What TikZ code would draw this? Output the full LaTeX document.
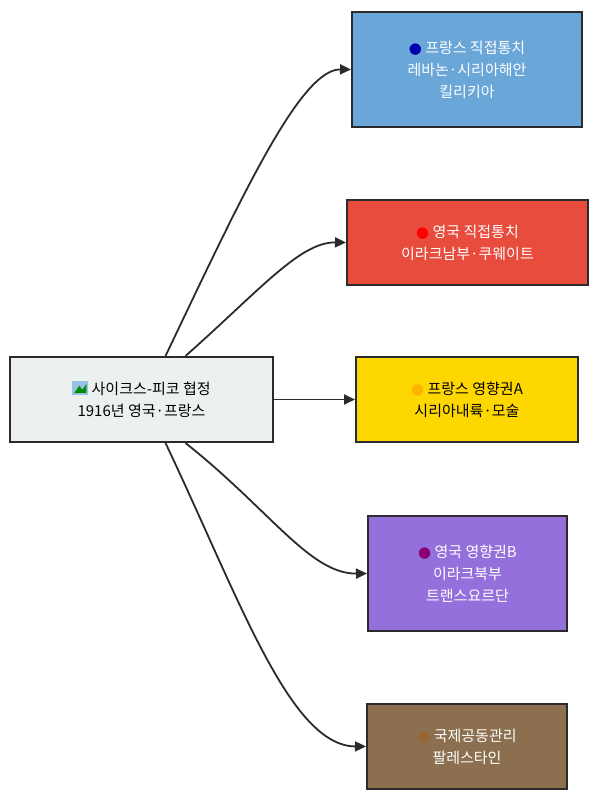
\documentclass[tikz,border=0pt]{standalone}
\usepackage{fontspec}
\setmainfont{Noto Sans CJK KR}
\newfontfamily\dejavu{DejaVu Sans}
\usetikzlibrary{calc,arrows.meta}
\definecolor{cblue}{HTML}{6AA6D8}
\definecolor{cred}{HTML}{E74C3C}
\definecolor{cyel}{HTML}{FFD700}
\definecolor{cpur}{HTML}{9370DB}
\definecolor{cbrn}{HTML}{8B6F4E}
\definecolor{cgrey}{HTML}{ECF0F1}
\definecolor{cline}{HTML}{2B2B2B}
\newcommand{\dotc}[1]{{\dejavu\textcolor{#1}{●}}}
\begin{document}
\begin{tikzpicture}[x=1pt,y=-1pt,
 box/.style={draw=cline,line width=2pt,align=center,font=\fontsize{15}{22}\selectfont,inner sep=0pt},
 con/.style={draw=cline,line width=1.8pt,-{Triangle[length=11pt,width=10pt]}}]
\useasboundingbox (0,0) rectangle (600,802);
\node[box,fill=cgrey,minimum width=263,minimum height=85] (c) at (141.5,399.5) {\tikz[x=1pt,y=1pt]{\fill[cblue!70!white] (0,0) rectangle (16,14);\fill[green!55!black] (2,2) -- (7,9) -- (10,5) -- (14,11) -- (14,2) -- cycle;} 사이크스-피코 협정\\1916년 영국·프랑스};
\node[box,fill=cblue,text=white,minimum width=230,minimum height=115] (a) at (467,69.5) {\dotc{blue!70!black} 프랑스 직접통치\\레바논·시리아해안\\킬리키아};
\node[box,fill=cred,text=white,minimum width=241,minimum height=85] (b) at (467.5,242.5) {\dotc{red} 영국 직접통치\\이라크남부·쿠웨이트};
\node[box,fill=cyel,text=black,minimum width=222,minimum height=85] (y) at (467,399.5) {\dotc{orange!60!yellow} 프랑스 영향권A\\시리아내륙·모술};
\node[box,fill=cpur,text=white,minimum width=199,minimum height=115] (p) at (467.5,573.5) {\dotc{violet!80!purple} 영국 영향권B\\이라크북부\\트랜스요르단};
\node[box,fill=cbrn,text=white,minimum width=200,minimum height=85] (r) at (467,746.5) {\dotc{brown!80!black} 국제공동관리\\팔레스타인};
\coordinate (c1) at ($(c.north)+(24,0)$);
\coordinate (c2) at ($(c.north)+(44,0)$);
\coordinate (c4) at ($(c.south)+(44,0)$);
\coordinate (c5) at ($(c.south)+(24,0)$);
\draw[con] (c1) .. controls (240,200) and (300,69) .. (a.west);
\draw[con] (c2) .. controls (260,290) and (300,242) .. (b.west);
\draw[con] (c.east) -- (y.west);
\draw[con] (c4) .. controls (270,510) and (310,574) .. (p.west);
\draw[con] (c5) .. controls (240,600) and (290,746) .. (r.west);
\end{tikzpicture}
\end{document}
